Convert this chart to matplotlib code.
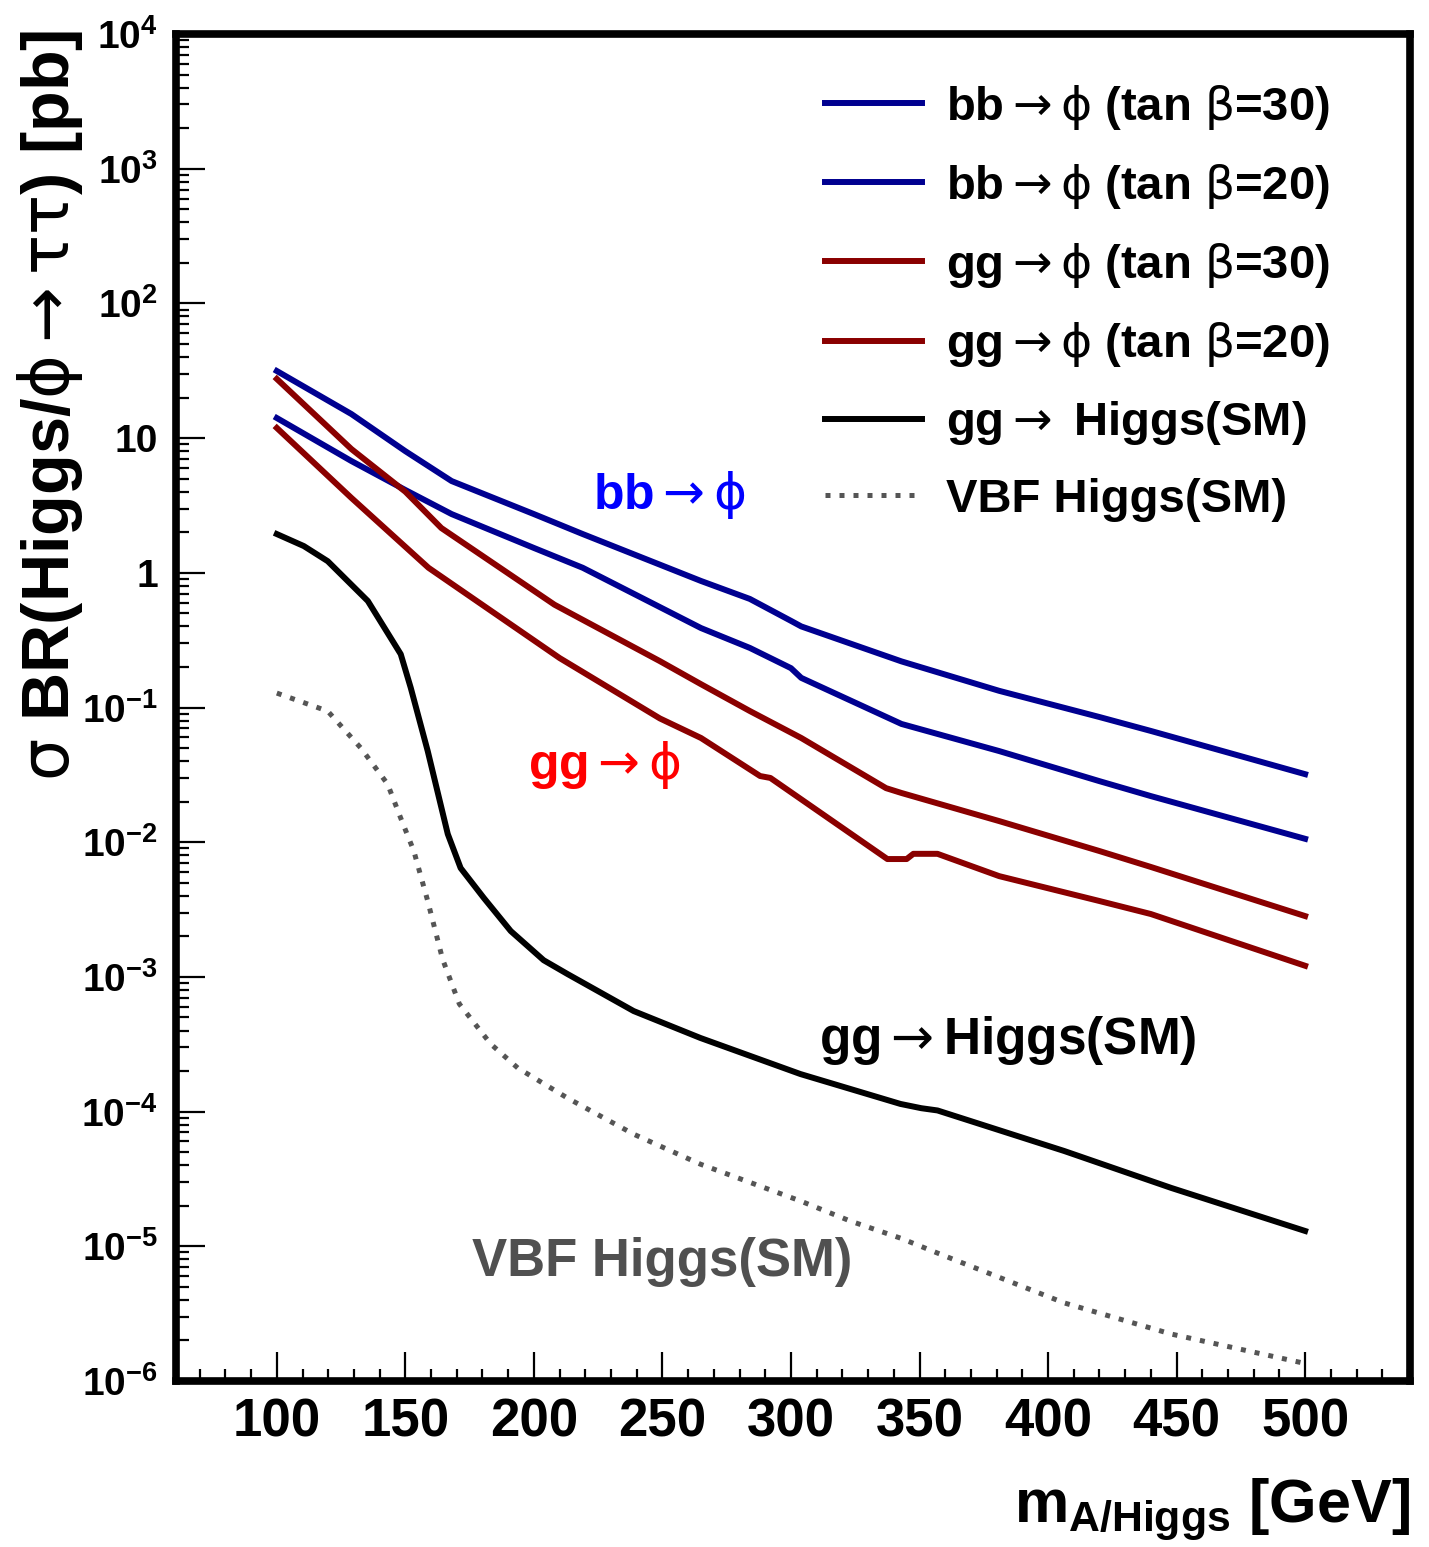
import matplotlib
matplotlib.use('Agg')
import matplotlib.pyplot as plt
from matplotlib.ticker import FixedLocator, MultipleLocator, LogLocator, NullFormatter

plt.rcParams['font.family'] = ['Liberation Sans', 'DejaVu Sans']
plt.rcParams['font.weight'] = 'bold'
plt.rcParams['mathtext.fontset'] = 'custom'
plt.rcParams['mathtext.rm'] = 'Liberation Sans:bold'
plt.rcParams['mathtext.it'] = 'Liberation Sans:bold'
plt.rcParams['mathtext.bf'] = 'Liberation Sans:bold'
plt.rcParams['mathtext.sf'] = 'DejaVu Sans:weight=normal:style=normal'

# ---------------- data ----------------
m_bb30 = [100, 129, 150, 168, 200, 219, 265, 284, 300, 304, 343, 381, 420, 440, 500]
v_bb30 = [31.5, 15.1, 8.0, 4.8, 2.73, 1.94, 0.87, 0.64, 0.44, 0.40, 0.22, 0.133, 0.085, 0.067, 0.032]

m_bb20 = [100, 129, 150, 168, 200, 219, 265, 284, 300, 304, 343, 381, 420, 440, 500]
v_bb20 = [14.1, 6.76, 4.12, 2.73, 1.53, 1.09, 0.389, 0.277, 0.196, 0.166, 0.0755, 0.0475, 0.0284, 0.022, 0.0106]

m_gg30 = [100, 129, 150, 164, 208, 249, 265, 284, 304, 337, 343, 381, 420, 440, 500]
v_gg30 = [27.5, 8.3, 4.0, 2.15, 0.58, 0.221, 0.149, 0.0942, 0.0594, 0.0252, 0.0232, 0.01435, 0.0086, 0.00655, 0.00283]

m_gg20 = [100, 129, 159, 210, 249, 265, 288, 292, 337.5, 345, 347.6, 357, 381, 420, 440, 500]
v_gg20 = [11.9, 3.6, 1.09, 0.233, 0.083, 0.0594, 0.031, 0.030, 0.0075, 0.0075, 0.0082, 0.0082, 0.0056, 0.00366, 0.00293, 0.00121]

m_sm = [100, 110.5, 119.8, 135.4, 148.2, 152.1, 158.7, 166.5, 171.5, 180.5, 191, 203.8, 213.1, 238.8,
        264.8, 303.7, 342.6, 350.7, 357, 406.3, 448, 500]
v_sm = [1.94, 1.58, 1.22, 0.618, 0.249, 0.14, 0.0475, 0.0115, 0.00643, 0.00386, 0.00219, 0.00133, 0.00105,
        0.000558, 0.000352, 0.00019, 0.000114, 0.000106, 0.000102, 5.1e-5, 2.71e-5, 1.3e-5]

m_vbf = [100, 119.8, 132.7, 143.1, 148.2, 153.3, 158.7, 164.5, 171, 183.2, 193.7, 213.1, 238.8, 264.8,
         303.7, 323.1, 342.6, 357.7, 406.3, 448, 500]
v_vbf = [0.128, 0.094, 0.050, 0.027, 0.0151, 0.0086, 0.00366, 0.00135, 0.00063, 0.000318, 0.000211,
         0.000126, 6.8e-5, 4.07e-5, 2.17e-5, 1.54e-5, 1.15e-5, 8.8e-6, 3.8e-6, 2.23e-6, 1.35e-6]

ARROW = r'$\mathsf{\rightarrow}$'
PHI = r'$\mathsf{\phi}$'
BETA = r'$\mathsf{\beta}$'
legend_labels = ['bb' + ARROW + PHI + ' (tan ' + BETA + '=30)',
                 'bb' + ARROW + PHI + ' (tan ' + BETA + '=20)',
                 'gg' + ARROW + PHI + ' (tan ' + BETA + '=30)',
                 'gg' + ARROW + PHI + ' (tan ' + BETA + '=20)',
                 'gg' + ARROW + ' Higgs(SM)',
                 'VBF Higgs(SM)']

x_ticks = [100, 150, 200, 250, 300, 350, 400, 450, 500]
y_ticks = [1e-6, 1e-5, 1e-4, 1e-3, 1e-2, 1e-1, 1, 10, 1e2, 1e3, 1e4]
y_ticklabels = [r'$10^{-6}$', r'$10^{-5}$', r'$10^{-4}$', r'$10^{-3}$', r'$10^{-2}$', r'$10^{-1}$',
                '1', '10', r'$10^{2}$', r'$10^{3}$', r'$10^{4}$']

# ---------------- figure ----------------
BLUE = '#000090'
RED = '#8a0000'
fig = plt.figure(figsize=(14.29, 15.47), dpi=100)
ax = fig.add_axes([0.1232, 0.1073, 0.8635, 0.8707])
ax.set_yscale('log')
ax.set_xlim(60.8, 540.8)
ax.set_ylim(1e-6, 1e4)

lw = 4.3
l1, = ax.plot(m_bb30, v_bb30, color=BLUE, lw=lw, solid_joinstyle='round')
l2, = ax.plot(m_bb20, v_bb20, color=BLUE, lw=lw, solid_joinstyle='round')
l3, = ax.plot(m_gg30, v_gg30, color=RED, lw=lw, solid_joinstyle='round')
l4, = ax.plot(m_gg20, v_gg20, color=RED, lw=lw, solid_joinstyle='round')
l5, = ax.plot(m_sm, v_sm, color='black', lw=lw, solid_joinstyle='round')
l6, = ax.plot(m_vbf, v_vbf, color='#555555', lw=3.6, linestyle=(0, (1.0, 1.8)))

leg = ax.legend([l1, l2, l3, l4, l5, l6], legend_labels, loc='upper left',
                bbox_to_anchor=(0.526, 0.964), frameon=False, fontsize=34,
                handlelength=2.05, handletextpad=0.5, labelspacing=0.64, borderpad=0,
                borderaxespad=0)

ax.text(252.9, 3.8, 'bb' + ARROW + PHI, color='#0000ff', fontsize=36, fontweight='bold',
        ha='center', va='center')
ax.text(227.6, 0.0374, 'gg' + ARROW + PHI, color='#ff0000', fontsize=36, fontweight='bold',
        ha='center', va='center')
ax.text(384.4, 3.4e-4, 'gg' + ARROW + 'Higgs(SM)', color='black', fontsize=37, fontweight='bold',
        ha='center', va='center')
ax.text(249.8, 7.6e-6, 'VBF Higgs(SM)', color='#505050', fontsize=38, fontweight='bold',
        ha='center', va='center')

# axes styling
ax.xaxis.set_major_locator(FixedLocator(x_ticks))
ax.set_xticklabels([str(t) for t in x_ticks])
ax.xaxis.set_minor_locator(MultipleLocator(10))
ax.yaxis.set_major_locator(FixedLocator(y_ticks))
ax.set_yticklabels(y_ticklabels)
ax.yaxis.set_minor_locator(LogLocator(base=10, subs=range(2, 10), numticks=100))
ax.yaxis.set_minor_formatter(NullFormatter())

ax.tick_params(axis='both', which='major', direction='in', length=21, width=1.6, top=False, right=False)
ax.tick_params(axis='both', which='minor', direction='in', length=9, width=1.6, top=False, right=False)
ax.tick_params(axis='x', which='major', labelsize=38, pad=12)
ax.tick_params(axis='y', which='major', labelsize=28, pad=13)
for s in ax.spines.values():
    s.set_linewidth(5.5)

ax.set_ylabel(r'$\mathsf{\sigma}$ BR(Higgs/' + r'$\mathsf{\phi\rightarrow\tau\tau}$' + ') [pb]',
              fontsize=48, fontweight='bold', ha='right', va='center')
ax.yaxis.set_label_coords(-0.102, 1.003)
ax.set_xlabel(r'$m_{A/Higgs}$ [GeV]', fontsize=44, fontweight='bold', ha='right')
ax.xaxis.set_label_coords(1.0, -0.071)

fig.savefig('out.png', dpi=100)
